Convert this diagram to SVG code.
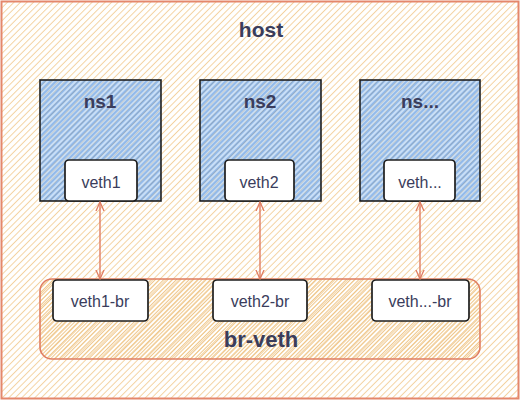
<svg xmlns="http://www.w3.org/2000/svg" width="521" height="401" viewBox="0 0 521 401">
  <defs>
    <pattern id="hOrange" patternUnits="userSpaceOnUse" width="10" height="4.6" patternTransform="rotate(-45)">
      <line x1="0" y1="2.3" x2="10" y2="2.3" stroke="#f3d2a2" stroke-width="1"/>
    </pattern>
    <pattern id="hOrangeDense" patternUnits="userSpaceOnUse" width="10" height="3" patternTransform="rotate(-45)">
      <line x1="0" y1="1.5" x2="10" y2="1.5" stroke="#efc78c" stroke-width="1"/>
    </pattern>
    <pattern id="hBlue" patternUnits="userSpaceOnUse" width="10" height="4" patternTransform="rotate(-45)">
      <line x1="0" y1="1" x2="10" y2="1" stroke="#4a8cdc" stroke-width="1.2"/>
      <line x1="0" y1="3" x2="10" y2="3" stroke="#9ec5ef" stroke-width="1.1"/>
    </pattern>
    <marker id="ah" viewBox="0 0 10 10" refX="9" refY="5" markerWidth="10" markerHeight="10" orient="auto-start-reverse" markerUnits="userSpaceOnUse">
      <path d="M0,1 L9,5 L0,9" fill="none" stroke="#e07d62" stroke-width="1.3" stroke-linecap="round"/>
    </marker>
    <style>
      .title{font-family:"Liberation Sans",Arial,sans-serif;font-weight:bold;fill:#3a3d5c;text-anchor:middle}
      .lbl{font-family:"Liberation Sans",Arial,sans-serif;font-size:16px;fill:#3a3d5c;text-anchor:middle}
      .ns{fill:url(#hBlue);stroke:#1e1e1e;stroke-width:1.6}
      .port{fill:#ffffff;stroke:#1e1e1e;stroke-width:1.7}
      .conn{stroke:#e07d62;stroke-width:1.4;fill:none;marker-start:url(#ah);marker-end:url(#ah)}
    </style>
  </defs>
  <rect width="521" height="401" fill="#ffffff"/>
  <g id="host">
    <rect x="1.5" y="1.5" width="517" height="397" fill="url(#hOrange)" stroke="#e4876c" stroke-width="2"/>
    <text class="title" x="261" y="37" font-size="21">host</text>
  </g>
  <g id="br-veth">
    <rect x="40" y="279" width="440" height="80" rx="12" fill="url(#hOrangeDense)" stroke="#e07d62" stroke-width="1.6"/>
    <text class="title" x="261" y="347" font-size="22">br-veth</text>
  </g>
  <g id="ns1">
    <rect class="ns" x="40" y="80" width="121" height="121"/>
    <text class="title" x="100" y="108" font-size="19">ns1</text>
  </g>
  <g id="ns2">
    <rect class="ns" x="200" y="80" width="121" height="121"/>
    <text class="title" x="260" y="108" font-size="19">ns2</text>
  </g>
  <g id="ns3">
    <rect class="ns" x="360" y="80" width="120" height="121"/>
    <text class="title" x="420" y="108" font-size="19">ns...</text>
  </g>
  <g id="veth1">
    <rect class="port" x="65" y="160" width="72" height="41" rx="4"/>
    <text class="lbl" x="101" y="188">veth1</text>
  </g>
  <g id="veth2">
    <rect class="port" x="225" y="160" width="69" height="41" rx="4"/>
    <text class="lbl" x="259" y="188">veth2</text>
  </g>
  <g id="veth3">
    <rect class="port" x="384" y="160" width="71" height="41" rx="4"/>
    <text class="lbl" x="420" y="188">veth...</text>
  </g>
  <g id="veth1-br">
    <rect class="port" x="53" y="280" width="95" height="41" rx="4"/>
    <text class="lbl" x="100" y="307">veth1-br</text>
  </g>
  <g id="veth2-br">
    <rect class="port" x="213" y="280" width="94" height="41" rx="4"/>
    <text class="lbl" x="260" y="307">veth2-br</text>
  </g>
  <g id="veth3-br">
    <rect class="port" x="372" y="280" width="97" height="41" rx="4"/>
    <text class="lbl" x="420" y="307">veth...-br</text>
  </g>
  <g id="connectors">
    <line class="conn" x1="100" y1="202" x2="100" y2="279"/>
    <line class="conn" x1="260" y1="202" x2="260" y2="279"/>
    <line class="conn" x1="420" y1="202" x2="420" y2="279"/>
  </g>
</svg>
